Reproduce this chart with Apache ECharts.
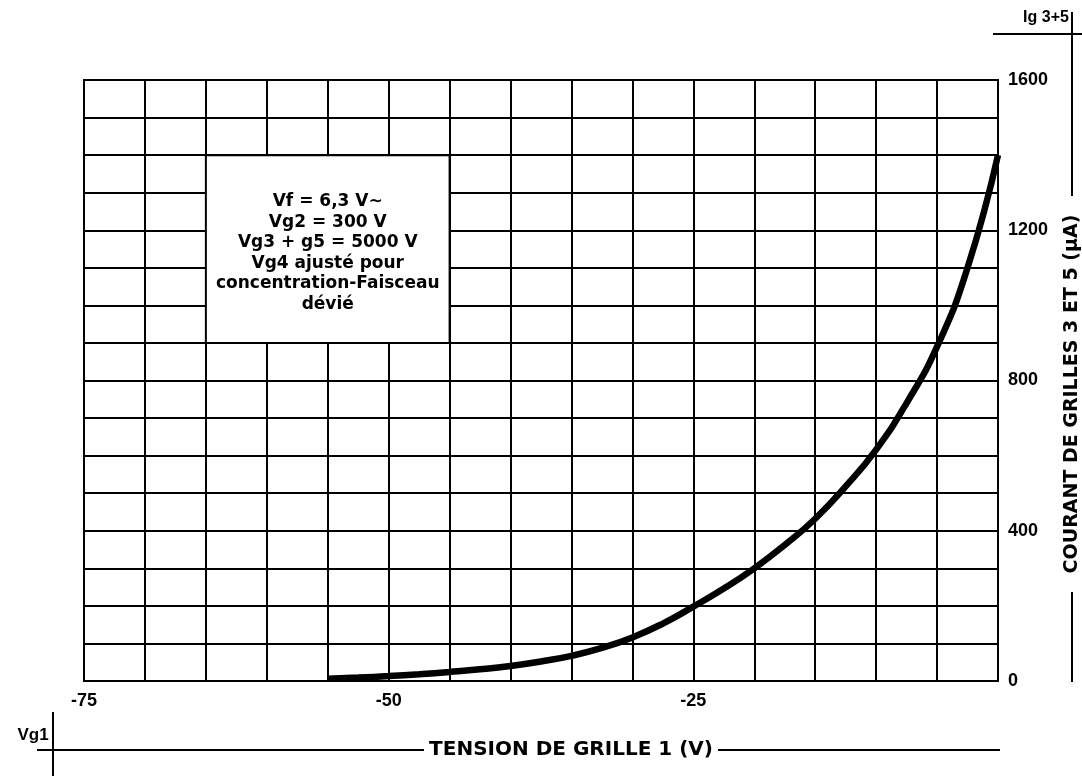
<!DOCTYPE html>
<html>
<head>
<meta charset="utf-8">
<script src="https://cdn.jsdelivr.net/npm/echarts@6/dist/echarts.min.js"></script>
<style>
html,body{margin:0;padding:0;background:#fff;}
#chart{width:1082px;height:776px;}
</style>
</head>
<body>
<div id="chart"></div>
<script>
// Grid voltage Vg1 (V)
var vg1 = [-55, -52.5, -50, -47.5, -45, -42.5, -40, -37.5, -35, -32.5, -30, -27.5, -25, -22.5, -20, -17.5, -15, -12.5, -10, -7.5, -5, -2.5, 0];
// Grid 3+5 current (µA)
var ig35 = [6, 9, 13, 18, 24, 31, 40, 52, 67, 88, 116, 153, 198, 246, 300, 362, 432, 518, 616, 740, 890, 1100, 1400];
var xTickLabels = [-75, -50, -25];
var yTickLabels = [0, 400, 800, 1200, 1600];
var noteLines = ['Vf = 6,3 V\u223C', 'Vg2 = 300 V', 'Vg3 + g5 = 5000 V', 'Vg4 ajusté pour', 'concentration-Faisceau', 'dévié'];

var chart = echarts.init(document.getElementById('chart'));
var tickFont = {fontFamily: 'Liberation Sans', fontWeight: 'bold', fontSize: 18, color: '#000'};
var titleFont = 'DejaVu Sans';

var option = {
  animation: false,
  backgroundColor: '#fff',
  grid: {left: 84, right: 84, top: 80, bottom: 95, show: true, borderColor: '#000', borderWidth: 2},
  xAxis: {
    type: 'value', min: -75, max: 0, interval: 5,
    axisLine: {show: false}, axisTick: {show: false},
    splitLine: {show: true, lineStyle: {color: '#000', width: 2}},
    axisLabel: Object.assign({
      margin: 11,
      formatter: function (v) { return xTickLabels.indexOf(v) >= 0 ? String(v) : ''; }
    }, tickFont)
  },
  yAxis: {
    type: 'value', min: 0, max: 1600, interval: 100, position: 'right',
    axisLine: {show: false}, axisTick: {show: false},
    splitLine: {show: true, lineStyle: {color: '#000', width: 2}},
    axisLabel: Object.assign({
      margin: 10,
      formatter: function (v) { return yTickLabels.indexOf(v) >= 0 ? String(v) : ''; }
    }, tickFont)
  },
  series: [{
    type: 'line',
    data: vg1.map(function (x, i) { return [x, ig35[i]]; }),
    smooth: 0.5,
    symbol: 'none',
    lineStyle: {color: '#000', width: 6.5, cap: 'butt'},
    z: 5,
    markArea: {
      silent: true,
      itemStyle: {color: '#fff', borderColor: '#000', borderWidth: 2},
      label: {
        show: true, position: 'inside',
        formatter: noteLines.join('\n'),
        fontFamily: titleFont, fontWeight: 'bold', fontSize: 17, lineHeight: 20.6,
        color: '#000', align: 'center', offset: [0, 4]
      },
      data: [[{xAxis: -65, yAxis: 1400}, {xAxis: -45, yAxis: 900}]]
    }
  }],
  graphic: [
    // bottom axis title and rules
    {type: 'line', shape: {x1: 37, y1: 750, x2: 424, y2: 750}, style: {stroke: '#000', lineWidth: 2}},
    {type: 'line', shape: {x1: 718, y1: 750, x2: 1000, y2: 750}, style: {stroke: '#000', lineWidth: 2}},
    {type: 'line', shape: {x1: 53, y1: 712, x2: 53, y2: 776}, style: {stroke: '#000', lineWidth: 2}},
    {type: 'text', x: 571, y: 750, style: {text: 'TENSION DE GRILLE 1 (V)', fontFamily: titleFont, fontSize: 20, fontWeight: 'bold', fill: '#000', align: 'center', verticalAlign: 'middle'}},
    {type: 'text', x: 33, y: 735, style: {text: 'Vg1', fontFamily: 'Liberation Sans', fontSize: 17, fontWeight: 'bold', fill: '#000', align: 'center', verticalAlign: 'middle'}},
    // right axis title and rules
    {type: 'line', shape: {x1: 1072, y1: 12, x2: 1072, y2: 196}, style: {stroke: '#000', lineWidth: 2}},
    {type: 'line', shape: {x1: 1072, y1: 592, x2: 1072, y2: 682}, style: {stroke: '#000', lineWidth: 2}},
    {type: 'line', shape: {x1: 993, y1: 34, x2: 1082, y2: 34}, style: {stroke: '#000', lineWidth: 2}},
    {type: 'text', x: 1046, y: 18, style: {text: 'Ig 3+5', fontFamily: 'Liberation Sans', fontSize: 16, fontWeight: 'bold', fill: '#000', align: 'center', verticalAlign: 'middle'}},
    {type: 'text', x: 1072, y: 394, rotation: Math.PI / 2, style: {text: 'COURANT DE GRILLES 3 ET 5 (\u03BCA)', fontFamily: titleFont, fontSize: 19, fontWeight: 'bold', fill: '#000', align: 'center', verticalAlign: 'middle'}}
  ]
};
chart.setOption(option);
</script>
</body>
</html>
